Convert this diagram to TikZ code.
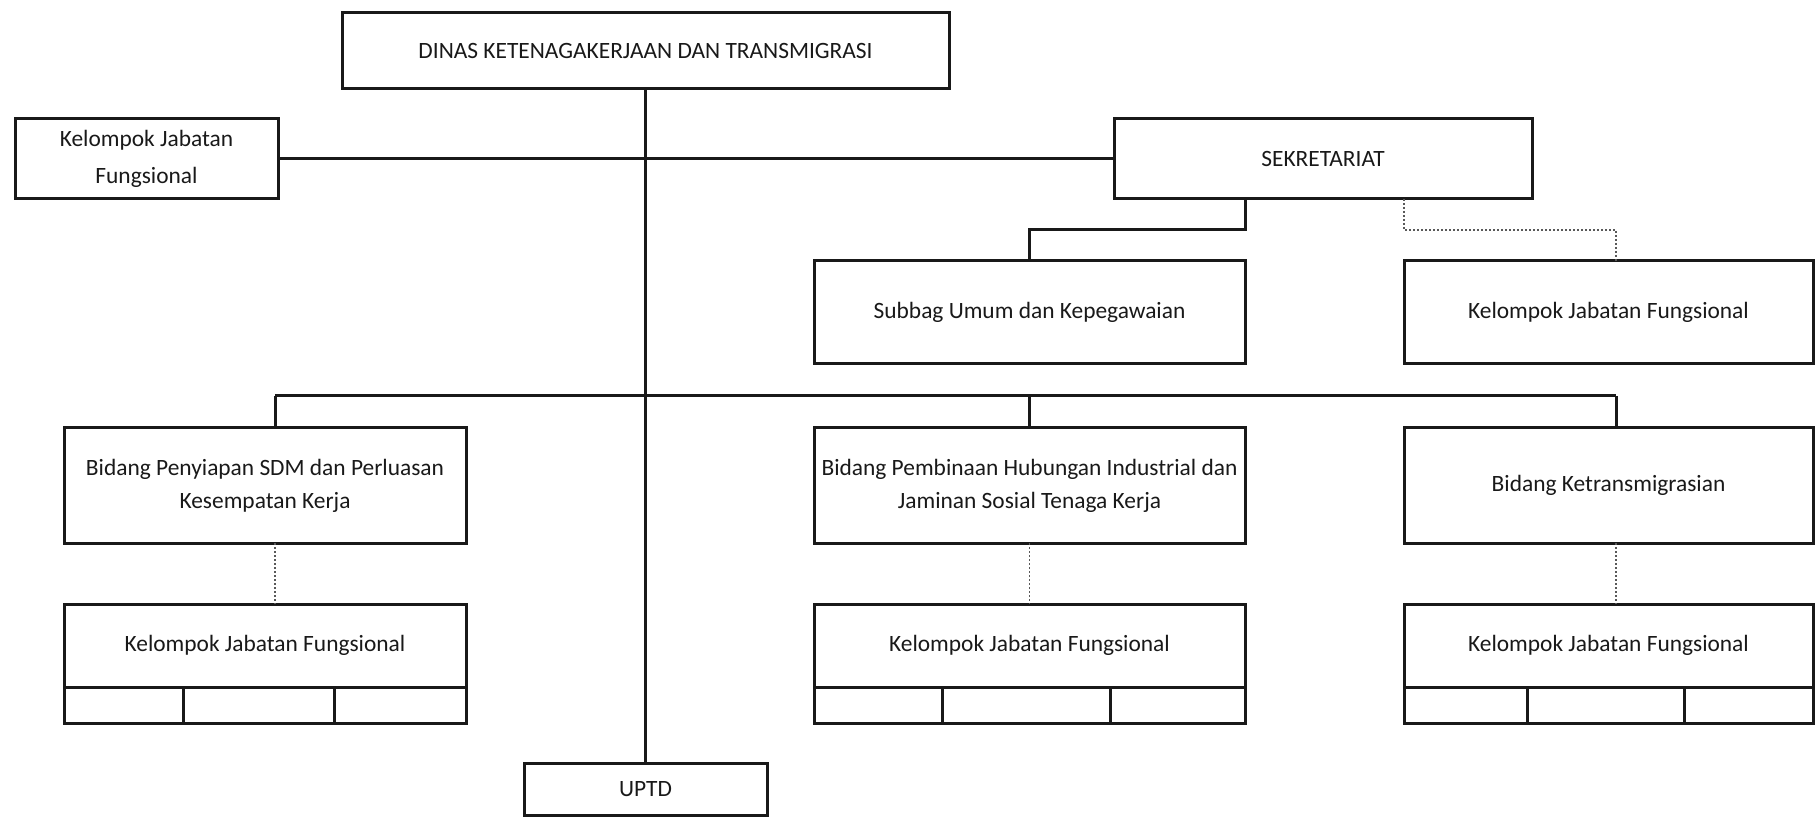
\documentclass[tikz,border=0pt]{standalone}
\usepackage{fontspec}
\setmainfont{Carlito}
\begin{document}
\begin{tikzpicture}[x=0.5pt,y=-0.5pt,
  sz/.style 2 args={minimum width=#1*0.5pt, minimum height=#2*0.5pt},
  box/.style={draw=black!90, line width=1.5pt, inner sep=0pt, outer sep=0pt, align=center,
    text=black!90, font=\fontsize{11.7}{16.5}\selectfont},
  cell/.style={draw=black!90, line width=1.5pt, inner sep=0pt, outer sep=0pt, anchor=north west},
  link/.style={draw=black!90, line width=1.5pt},
  dotlink/.style={draw=black!65, line width=0.8pt, dash pattern=on 1.2pt off 0.8pt}]
\useasboundingbox (0,0) rectangle (1819,817);

% head office and the units beside it
\node[box, sz={607}{76}] (dinas) at (645.5,51) {DINAS KETENAGAKERJAAN DAN TRANSMIGRASI};
\node[box, sz={263}{80}, font=\fontsize{11.7}{18.5}\selectfont] (kjfL) at (146.5,159) {Kelompok Jabatan\\Fungsional};
\node[box, sz={418}{80}] (sek) at (1323,159) {SEKRETARIAT};

% secretariat level
\node[box, sz={431}{103}] (subbag) at (1029.5,312.5) {Subbag Umum dan Kepegawaian};
\node[box, sz={409}{103}] (kjfS) at (1608.5,312.5) {Kelompok Jabatan Fungsional};

% divisions
\node[box, sz={402}{115}] (bid1) at (265,485.5) {Bidang Penyiapan SDM dan Perluasan\\Kesempatan Kerja};
\node[box, sz={431}{115}] (bid2) at (1029.5,485.5) {Bidang Pembinaan Hubungan Industrial dan\\Jaminan Sosial Tenaga Kerja};
\node[box, sz={409}{115}] (bid3) at (1608.5,485.5) {Bidang Ketransmigrasian};

% functional groups under each division, with their empty row of cells
\node[box, sz={402}{83}] (kjf1) at (265,645.5) {Kelompok Jabatan Fungsional};
\node[cell, sz={119}{36}] (k1a) at (kjf1.south west) {};
\node[cell, sz={151}{36}] (k1b) at (k1a.north east) {};
\node[cell, sz={132}{36}] (k1c) at (k1b.north east) {};

\node[box, sz={431}{83}] (kjf2) at (1029.5,645.5) {Kelompok Jabatan Fungsional};
\node[cell, sz={128}{36}] (k2a) at (kjf2.south west) {};
\node[cell, sz={168}{36}] (k2b) at (k2a.north east) {};
\node[cell, sz={135}{36}] (k2c) at (k2b.north east) {};

\node[box, sz={409}{83}] (kjf3) at (1608.5,645.5) {Kelompok Jabatan Fungsional};
\node[cell, sz={123}{36}] (k3a) at (kjf3.south west) {};
\node[cell, sz={157}{36}] (k3b) at (k3a.north east) {};
\node[cell, sz={129}{36}] (k3c) at (k3b.north east) {};

\node[box, sz={243}{52}] (uptd) at (645.5,789) {UPTD};

% connectors
\coordinate (busL) at (275,396);
\coordinate (busR) at (1616,396);

\draw[link] (dinas.south) -- (dinas.south |- uptd.north);
\draw[link] (kjfL.east) -- (sek.west);

\draw[link] (sek.south -| subbag.east) -- ++(0,31) -| (subbag.north);
\draw[dotlink] (sek.south -| kjfS.west) -- ++(0,31) -| (kjfS.north -| busR);

\draw[link] (busL) -- (busR);
\draw[link] (busL) -- (busL |- bid1.north);
\draw[link] (bid2.north |- busL) -- (bid2.north);
\draw[link] (busR) -- (busR |- bid3.north);

\draw[dotlink] (bid1.south -| busL) -- (kjf1.north -| busL);
\draw[dotlink] (bid2.south) -- (kjf2.north);
\draw[dotlink] (bid3.south -| busR) -- (kjf3.north -| busR);
\end{tikzpicture}
\end{document}
